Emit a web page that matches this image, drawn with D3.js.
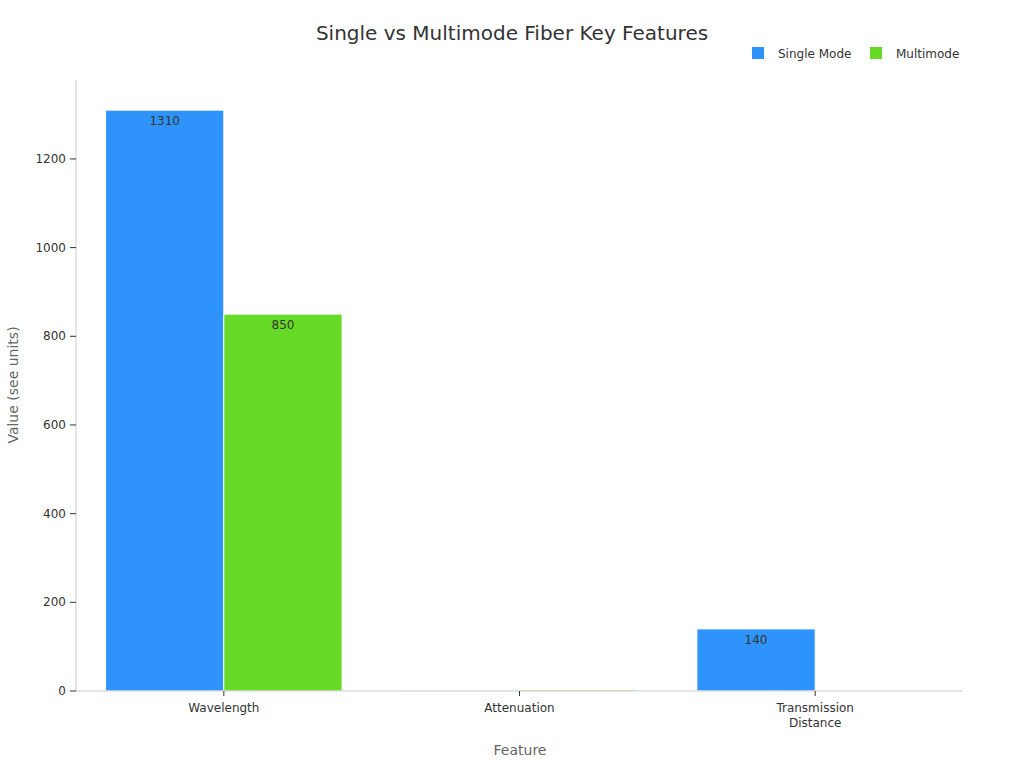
<!DOCTYPE html><html><head><meta charset="utf-8"><script src="https://cdn.jsdelivr.net/npm/d3@7"></script>
<style>body{margin:0;background:#fff;font-family:"DejaVu Sans",sans-serif}</style></head><body><svg id="c" width="1024" height="768"></svg>
<script>
const categories=[["Wavelength"],["Attenuation"],["Transmission","Distance"]];
const seriesNames=["Single Mode","Multimode"];
const singleMode=[1310,0.4,140];
const multimode=[850,3,2];
const colors=["#2e93fa","#66da26"];
const yTicks=[0,200,400,600,800,1000,1200];
const svg=d3.select("#c");
const L=76,R=963,T=80,B=691;
const x=d3.scaleBand().domain(d3.range(3)).range([L,R]).padding(0);
const y=d3.scaleLinear().domain([0,1378]).range([B,T]);
svg.append("text").attr("x",512).attr("y",40).attr("text-anchor","middle").attr("font-size",20).attr("fill","#333").text("Single vs Multimode Fiber Key Features");
const series=[singleMode,multimode];
const bw=x.bandwidth()*0.8/2;
series.forEach((s,si)=>{
 s.forEach((v,i)=>{
  const x0=x(i)+x.bandwidth()*0.1+si*bw;
  svg.append("rect").attr("x",x0).attr("y",y(v)).attr("width",bw).attr("height",B-y(v)).attr("fill",colors[si]).attr("stroke","#fff").attr("stroke-width",1);
  if(v>=10) svg.append("text").attr("x",x0+bw/2).attr("y",y(v)+15).attr("text-anchor","middle").attr("font-size",12).attr("fill","#333").text(v);
 });
});
// axes
svg.append("line").attr("x1",L).attr("x2",L).attr("y1",T).attr("y2",B).attr("stroke","#ccc");
svg.append("line").attr("x1",L).attr("x2",R).attr("y1",B).attr("y2",B).attr("stroke","#ccc");
yTicks.forEach(t=>{
 svg.append("line").attr("x1",L-6).attr("x2",L).attr("y1",y(t)).attr("y2",y(t)).attr("stroke","#333");
 svg.append("text").attr("x",L-10).attr("y",y(t)+4).attr("text-anchor","end").attr("font-size",12).attr("fill","#333").text(t);
});
categories.forEach((c,i)=>{
 const cx=x(i)+x.bandwidth()/2;
 svg.append("line").attr("x1",cx).attr("x2",cx).attr("y1",B).attr("y2",B+5).attr("stroke","#333");
 c.forEach((ln,j)=>svg.append("text").attr("x",cx).attr("y",B+21+j*15).attr("text-anchor","middle").attr("font-size",12).attr("fill","#333").text(ln));
});
svg.append("text").attr("x",520).attr("y",755).attr("text-anchor","middle").attr("font-size",14).attr("fill","#666").text("Feature");
svg.append("text").attr("transform","translate(18,385) rotate(-90)").attr("text-anchor","middle").attr("font-size",14).attr("fill","#666").text("Value (see units)");
const lx=[752,870];
seriesNames.forEach((n,i)=>{
 svg.append("rect").attr("x",lx[i]).attr("y",47).attr("width",12).attr("height",12).attr("fill",colors[i]);
 svg.append("text").attr("x",lx[i]+26).attr("y",58).attr("font-size",12).attr("fill","#333").text(n);
});
</script></body></html>
